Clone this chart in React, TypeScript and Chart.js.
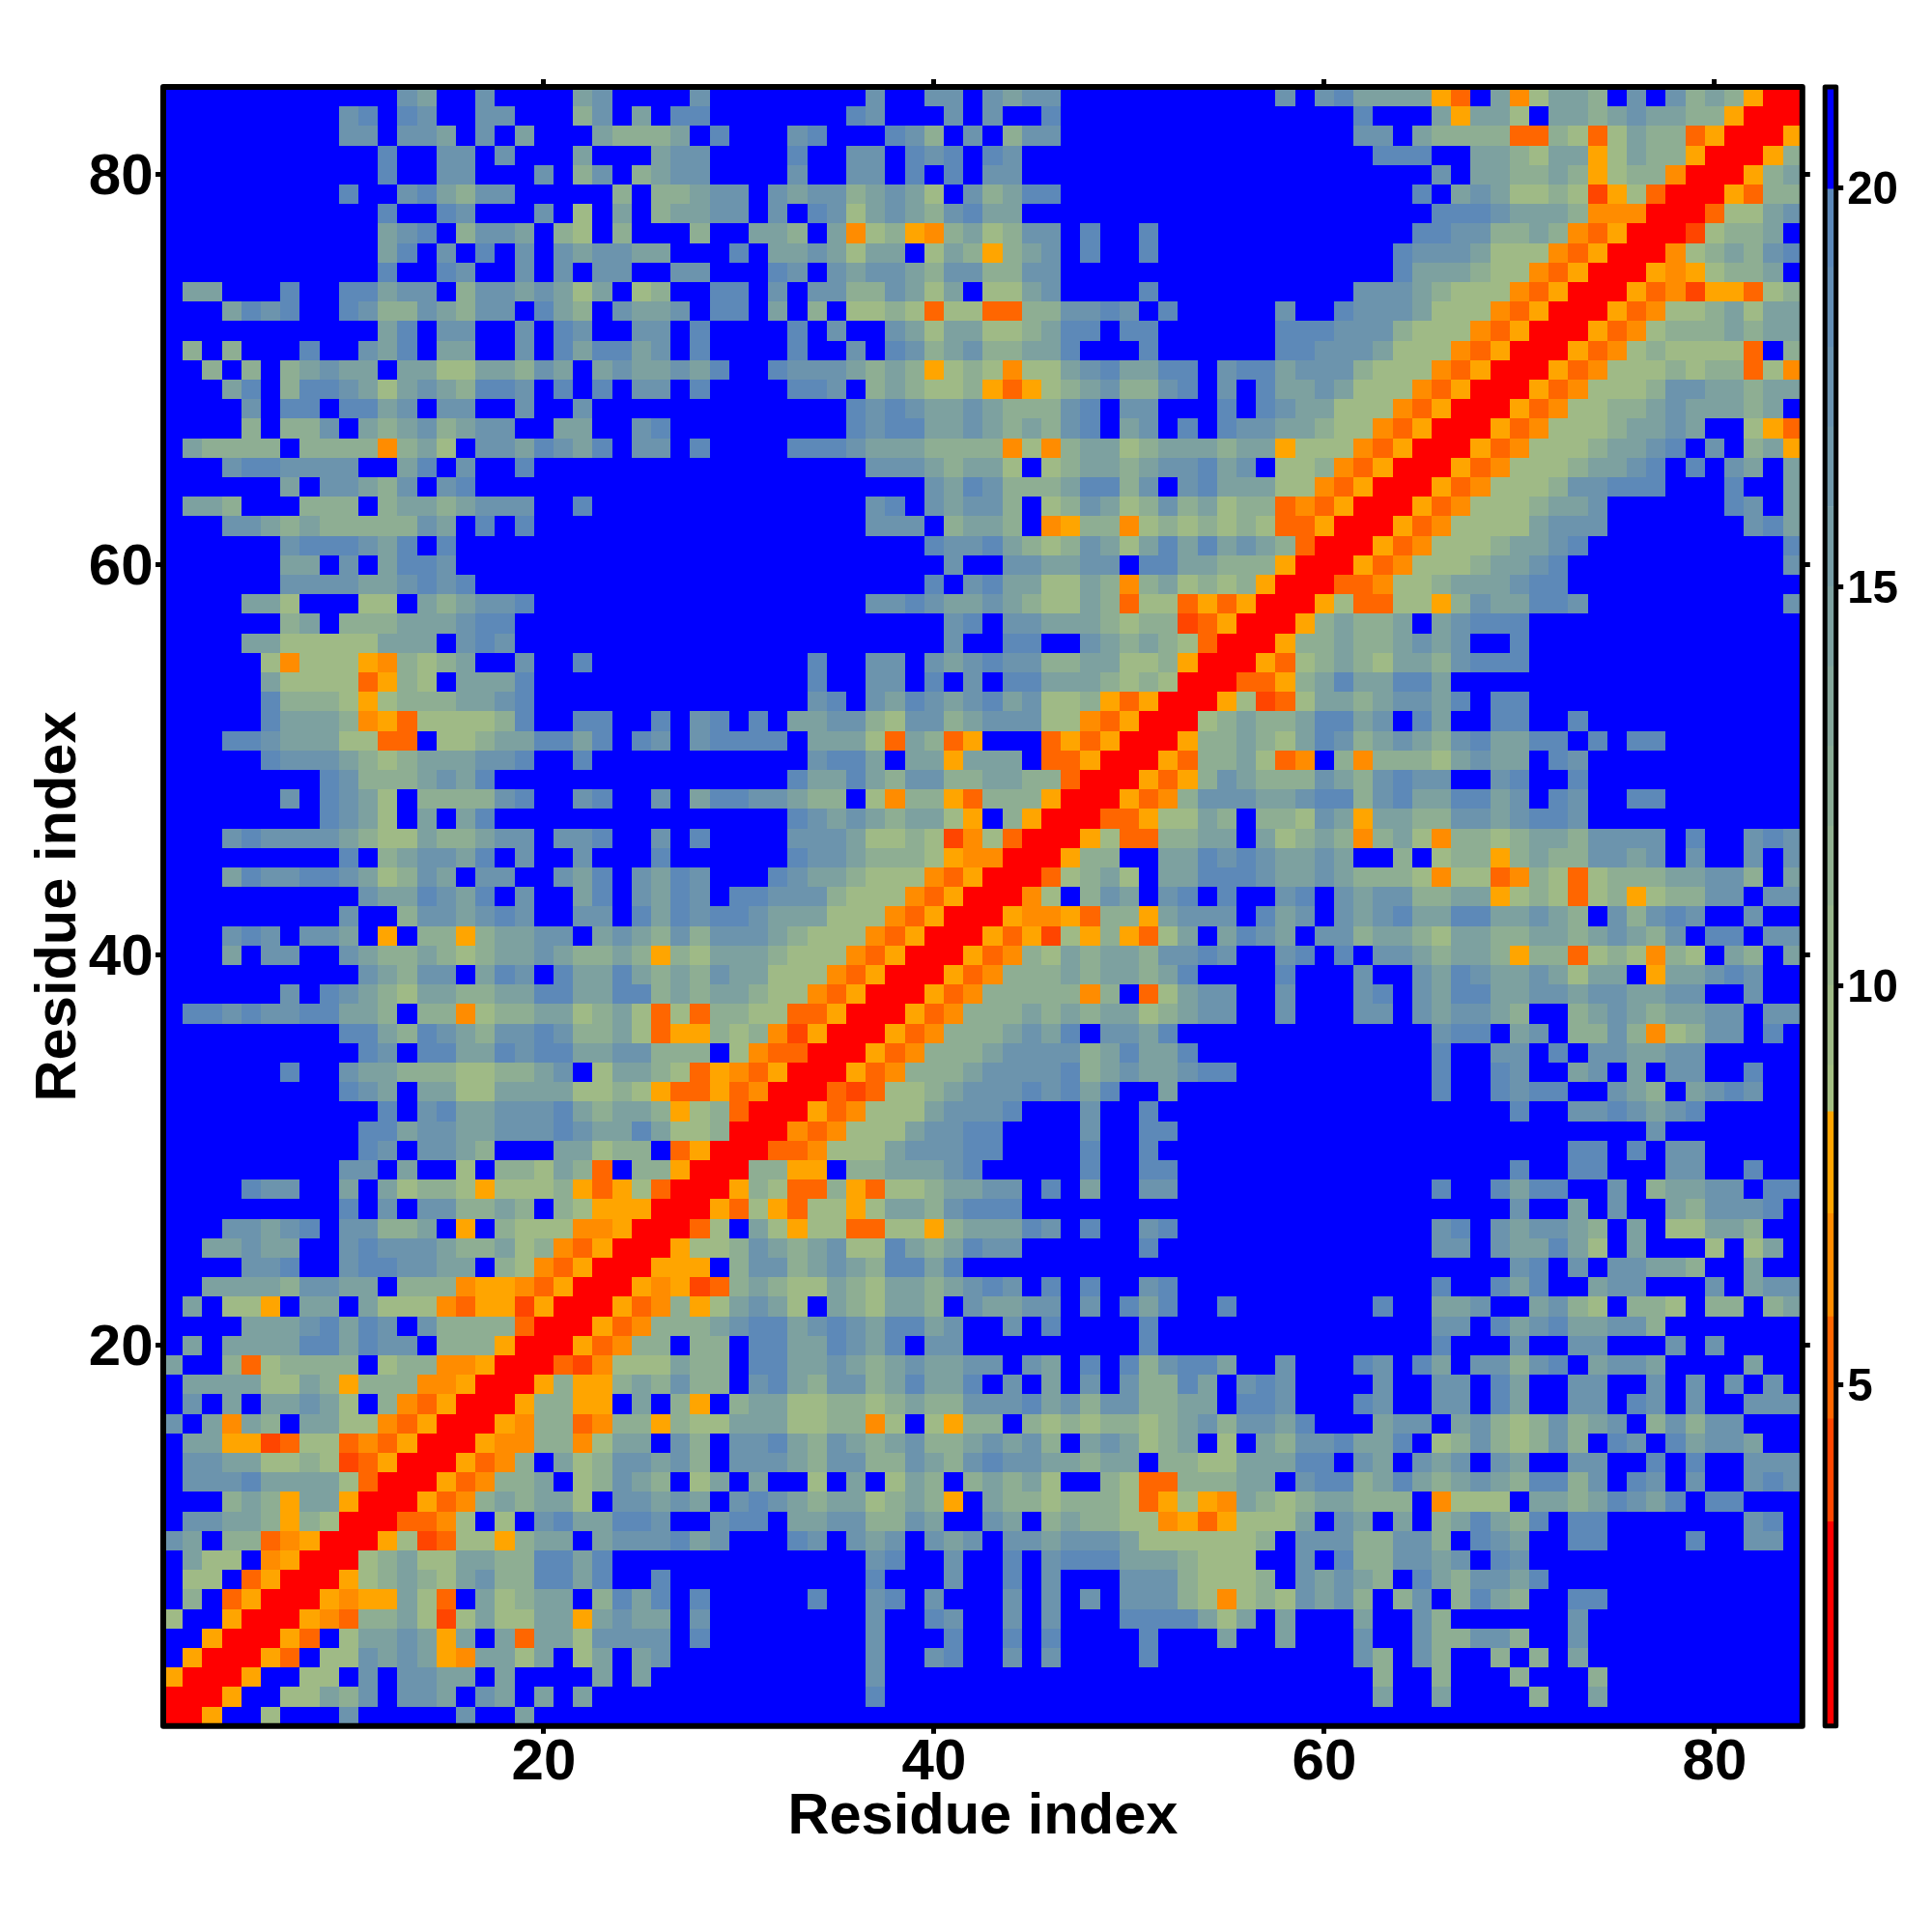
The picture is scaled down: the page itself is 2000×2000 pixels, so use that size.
import React, { useEffect, useRef } from "react";
import { Chart, registerables } from "chart.js";

Chart.register(...registerables);

const FONT = "'Liberation Sans', Arial, sans-serif";
const axisTitle = "Residue index";
const mainTicks = [20, 40, 60, 80];
const barTicks = [5, 10, 15, 20];
const residueMin = 0.5;
const residueMax = 84.5;
const barMin = 0.72;
const barMax = 21.26;

// Contact-map rows, top (residue 84) to bottom (residue 1). One character per residue.
const rows84to57 = [
  "....... .....23 ..2.... 32....2 ....... .2..22. 2322... ....... .2.2133 33ac.3b 5334.2. 2434arr",
  "....... ..21.12 ..22... 42.3.11 ....... 12...2. 2..1... ....... .....1. ..3a335 .334323 344arrr",
  "....... ..22.22 3.2.3.. .34443. 1...21. ..124.2 .422... ....... .....22 .34444c c45c534 4carrra",
  "....... ....1.. 22.2... 3...322 ....1.. 22.121. 12..... ....... ......1 11..334 533a534 4arrra4",
  "....... ....1.. 22...2. 42.4322 ....2.. 22.1.1. 22..... ....... ....... ..2.334 434a544 brrra43",
  "....... ..1..21 3422... ..4.443 22.2322 43235.2 4311... ....... ....... .1.3235 545da5c rrrac44",
  "....... ....1.. 12...2. 5.3.433 22.2.12 5323421 33..... ....... ....... ..11123 334bbbr rrc5532",
  "....... ....321 .4223.4 5.4...4 ..334.3 b54ab43 5422.1. .1..... ....... .112244 34bcarr rd5443.",
  "....... ....31. 2.1.2.2 32233.. .1.3323 533.534 a432.1. .1..... ....... 1222355 5bcarrr b543421",
  "....... ....1.. 12..2.2 .22..22 ...12.2 3223422 4422... ....... ....... 1333455 bcarrra ba5443.",
  ".33...1 ..11322 .422323 53.54.. 11.2.22 442353. 5532... .1..... .....22 234555b carrrac bdaac54",
  "...3121 ..12442 3422.13 4.2332. 11.3.4. 5545c55 cc44221 2.1.... .2..122 23555bc arrracb 5543533",
  "....... ....31. 22..2.1 2..22.1 ....1.2 ..23533 554311. 11..... .111222 4555bca rrracb5 4443433",
  ".4.4... 1..231. 33..2.1 31132.1 ....1.. 2.12432 44331.. .1..... .112223 555bcar rracb54 5555c.4",
  "..4.4.4 3233.33 5533423 .323323 1..1222 3434a54 5b55321 3311.21 1322245 55bcarr racb555 4544c5b",
  "...31.4 1123532 34112.1 .1.22.1 ....112 .434554 aca5432 4421.2. 1332355 5bcarrr acb5554 2233433",
  "....2.1 1.1132. 22..2.. 2...... ....... 1212332 344421. 22...1. 1233555 bcarrra cb55443 233343.",
  "....4.4 42.3432 4322..3 3..21.. ....... 1211332 343421. 32.1.12 233455b carrrac b555433 23..5ac",
  ".34444. 4444b43 5.22312 31.22.1 ....111 2333444 4b5b433 5433343 3a555bc arrracb 5554332 1.2.43a",
  "...2112 222..31 .2..1.. ....... ....... .222343 35.5433 4322132 .554bca rrracb5 5543321 .1.23.3",
  "......3 .22342. 21..... ....... ....... ....231 2444311 42.2133 355bcar rracb55 5422111 ...1..3",
  ".334... 444.433 43222.. 1...... ....... .21.232 24.5423 5424354 4cbcarr racb555 4332... ...12.3",
  "...2234 3444442 3.1.1.. ....... ....... .222.43 34.ba44 b545454 5ccarrr acb5555 3222... ....213",
  "......2 111231. 1...... ....... ....... ....122 1345423 5313132 34crrra cb55543 321.... ......1",
  "......3 3.2.311 2...... ....... ....... .....2. .223322 .113344 4arrrac b555433 21..... ......2",
  "......2 2223321 21..... ....... ....... ....1.2 1335534 b435454 arrrccb 5543332 11..... .......",
  "....335 ...55.3 43221.. ....... ....... .221233 2345534 c55caca rrra5cc 55a4233 112.... ......2",
  "......4 3.44433 3211... ....... ....... .....21 .223334 544dcar rra4344 3.32111 ....... .......",
];
const rows56to29 = [
  "....335 5555333 .212... ....... ....... .....2. .11..23 4345crr ra44344 3232..1 ....... .......",
  ".....5b 555ab45 43..2.. 1...... .....1. .22.232 1224433 554arrr ac54345 3342111 ....... .......",
  ".....35 555ca45 .3331.. ....... .....1. .22.1.2 .113334 545rrrc ca43133 113.... ....... .......",
  ".....14 445a544 43321.. ....... .....21 .231232 132554a carrra5 dc53343 2231.11 ....... .......",
  ".....13 334bac5 55541.. 11..1.2 1.1.332 2452243 22255bc arrr543 4431132 .13..11 ..1.... .......",
  "...1123 3355cc. 5543311 31.12.2 1111.33 35c34ca ...caca rrra443 4531243 2342133 11.1.11 .......",
  ".....12 2234543 33221.. 1...... .....21 13.33a3 33.ccar rrac443 5cb.4b4 4453233 .12.... .......",
  "....... .124443 231.... ....... ....133 1342244 3344crr raca423 4442342 122..21 ..1.... .......",
  "......2 .1235.4 44421.. 21..2.3 1122344 .5b44ac 444arrr acb4222 3321142 1331132 .12..11 .......",
  "....... .1235.3 .31.... ....... ....123 234335a .4arrrc ca5534. 44523a3 3442232 112.... .......",
  "...2122 2234553 44322.2 21..2.1 ....222 35545db 5crrra5 cc4433. 35434b4 35b4454 3342222 .1..212",
  "....... ..1.432 231.2.. 2...1.. ....122 34445ab brrra44 ..33121 23323.. 4.544a4 3442232 .2..2.2",
  "...3122 1123542 3.22..2 31.2312 ...1233 4555bca rrrc543 5.33111 2332344 45b55cb 45c5444 33224.3",
  "....... ...2331 231.2.. 31.2312 .112224 555bcar rrb5.42 3.21.1. .21.232 24433a5 45c54a5 4422.22",
  "....... ..2..42 23212.. 22.1312 1123335 55bcarr rabbac4 4a3222. 132.232 1331133 234.242 12..2..",
  "...212. 223.a.4 4a43322 .323424 2223455 5bcarrr acad5a4 ac53.31 23.2243 3453344 3343234 2.11.22",
  "...3.22 ..23443 4543323 4434a45 3334555 bcarrra cb45343 342212. .21.1.2 234334a 44c545b 45.34.3",
  "....... ...2342 2.312.1 3313434 233555b carrrac b444343 3431... .1...2. .231233 23533.a 33212..",
  "......2 .123453 3443311 3311434 33455bc arrracb 44444b4 .c5322. .2...21 .231133 2232233 22..2..",
  ".112122 11334.4 4b54433 5435c5c 4455cca rrracb4 4434343 354322. .2...22 .232234 ..43234 3322.22",
  "....... ..11341 2342212 4435caa 454bdar rracb44 43231.2 231.... ....... ..211.3 2.4424b 5422.1.",
  "....... ...12.1 1331211 3322444 .5bccrr racb444 3222243 1331... ....... ..1..22 .1.2233 22.....",
  "......1 ..23344 4554432 .53345c abcarrr acb4443 2222143 233211. ....... ..1..12 ..32.3. 22..1..",
  "....... ..123.3 3553333 5545acc acbrrrc dc55432 2212131 ..3.... ....... ..1..12 11..234 .3212..",
  "....... ....1.2 1332221 34334a5 4crrrac b555322 21...2. .1..... ....... ......1 ..22123 21.....",
  "....... ...1132 2332221 2331355 4rrrbcb 5553221 1....2. .11.... ....... ....... ......2 .......",
  "....... ...12.2 234...3 3544.ca rrrccb5 5532221 1....1. .1..... ....... ....... ..11.1. 22.....",
  "....... ..22.3. .5.4453 4c.44ar rr44aa. 4433321 .....1. .11.... ....... ......1 ..11... 22..1..",
];
const rows28to1 = [
  "....122 ..3.354 45a5554 aca5crr ra45cc4 ac55433 22.1.3. .22.... ....... ..1..13 11..2.4 3322.11",
  "....... ..1.2.2 24434.4 5aaarrr ac5ac55 a533421 11..... ....... ....... ......2 ..3.2.. 342221.",
  "...2232 1.22443 .a.4555 bbarrrc 5.35a55 cc55a43 3312.1. .21.... ....... ..21.23 2234.3. 55334..",
  "..33233 ..21222 344354b carrra5 5423432 5513431 22..... .1..... ....... ..22.23 3135.3. ..5.53.",
  "....221 ..21122 33.45bc arrraaa .422432 341131. ....... ....... ....... ......2 1.2.223 34..3..",
  "..33334 2233.44 4baabca rrrabad c434553 4533432 12.1.1. .21.... ....... ..1..13 1..322. ..2.322",
  ".3.55a. 33.3555 bcaadar rracb4a 53235.3 45334.2 3322.2. 131..1. ......1 ..332.. 3245.44 5.44.43",
  "....333 21312.2 4444crr racb444 3211321 231132. .2.1... .1..... ....... ..22.13 2133224 .......",
  ".3.3333 113122. 444arrr acb44.4 4.11331 231.22. ....... .1..... ....... ..1...2 ..22... 2.2....",
  "3..4c54 444.544 bbarrrc db55534 4.11332 3432332 2.23.1. 142113. .2...12 .13.224 21.3223 ....3..",
  ".333355 34a444b barrra4 aa43424 4.21342 2431331 .2.3.2. 24413.2 12....2 ..22.13 ..22..2 .2.2.2.",
  ".2.3.33 235.4bc arrra44 aa.3.4a .433554 4543442 2213242 24433.1 12...12 ..22.13 ..22.12 .2..222",
  "2.3b34. 3355bca rrrab44 cb44a45 5333554 4b5.5a4 4.45454 4543242 231...3 22.3245 42432.4 2422...",
  ".33aadc 55cbcar rrabb44 b533.24 .221342 3432443 2324.32 3543.5. 3422133 1.54245 424.12. 13223..",
  ".223355 45dcarr racb4.3 5422324 .222342 2442342 1223343 3.44553 3311.23 .232.23 ..22..1 .1..222",
  ".222133 335crrr acb443. 54234.5 3.3..5. 3.534.4 3435..4 5cc4443 3.21143 1343234 1142.12 .2..212",
  "...434a 33arrra cb43433 5.22323 .212343 35434a. 3445444 5ca5ab3 4543344 4.b555. 3343123 1.11...",
  ".22334a 45rrrcc b5.5.21 33112.. 211.332 24423.. 23.4344 55baca5 553.23. 3.43134 1.11... ....21.",
  "23.44cb arrra5d c55a433 .322213 2...12. 232.232 .223222 3555555 4.22244 224.123 ..11... .1..22.",
  ".355.ba rrr5435 5334411 31..... ....... .21..2. .1.2111 3334555 ..2.144 2232.12 ....... .......",
  ".55.car rra5434 5324411 31..1.. ....... .1...2. .1.2... 2224555 4.23234 .134223 1...... .......",
  ".4.carr rabaa35 c.35433 .4131.1 .....1. .21.2.. .2.2.2. 22245b5 452324. 42.4134 ..11... .......",
  "5..arrr abc4435 d535533 a3233.2 ....... .2..12. .2.2... 1111353 .3...3. .24.... ..2.... .......",
  "..arrra c.53323 a3.3c33 52222.1 ....... .2...1. .1.1... .1...3. .3...2. .244224 ..2.... .......",
  ".arrrac .552323 ab3353. 53.32.. ....... .2..21. .2.2... .1..... .....24 .24..4. 4.3.... .......",
  "arrra.. 55.2.22 33.3... .3.3... ....... .2..... ....... ....... ......4 ..4...4 ...4... .......",
  "rrra..5 5342.22 3.23.3. 3...... ....... .1..... ....... ....... ......3 ..3.... 4..3... .......",
  "rra..5. ..2.... .2..3.. ....... ....... ....... ....... ....... ....... ....... ....... .......",
];

// Value of each symbol in the rows (read against the colour bar).
const symbolValues: Record<string, number> = {
  ".": 21, "1": 19.2, "2": 17, "3": 14.5, "4": 12, "5": 9.5,
  a: 7.8, b: 6.5, c: 5.2, d: 3.9, r: 2,
};

// Colour bar segment edges
const barEdges = [0.72, 3.28, 4.57, 5.85, 7.14, 8.42, 9, 10, 11, 12, 13, 14, 15, 16, 17, 18, 19, 19.98, 21.26];

const hotColors = [
  { from: 0, color: "#ff0000" },
  { from: 3.28, color: "#ff4500" },
  { from: 4.57, color: "#ff6600" },
  { from: 5.85, color: "#ff8c00" },
  { from: 7.14, color: "#ffa500" },
];
const coolLow = [166, 192, 128];
const coolHigh = [88, 133, 188];

function colorOf(v: number): string {
  if (v >= 19.98) return "#0000ff";
  if (v >= 8.42) {
    const t = (v - 8.42) / (19.98 - 8.42);
    const c = coolLow.map((l, i) => Math.round(l + (coolHigh[i] - l) * t));
    return `rgb(${c[0]},${c[1]},${c[2]})`;
  }
  let col = hotColors[0].color;
  for (const h of hotColors) if (v >= h.from) col = h.color;
  return col;
}

const framePlugin = (lineWidth: number) => ({
  id: "frame",
  afterDraw(chart: any) {
    const { ctx, chartArea: a } = chart;
    ctx.save();
    ctx.lineWidth = lineWidth;
    ctx.lineJoin = "round";
    ctx.strokeStyle = "#000";
    ctx.strokeRect(a.left, a.top, a.right - a.left, a.bottom - a.top);
    ctx.restore();
  },
});

// Paints each point of the scatter dataset as a residue cell on the chart's own scales.
const cellPlugin = {
  id: "cells",
  beforeDatasetDraw(chart: any, args: any) {
    const { ctx, scales } = chart;
    const ds = chart.data.datasets[args.index];
    const area = chart.chartArea;
    ctx.save();
    ctx.beginPath();
    ctx.rect(area.left, area.top, area.right - area.left, area.bottom - area.top);
    ctx.clip();
    ds.data.forEach((p: any, i: number) => {
      const x0 = Math.round(scales.x.getPixelForValue(p.x - 0.5));
      const x1 = Math.round(scales.x.getPixelForValue(p.x + 0.5));
      const y0 = Math.round(scales.y.getPixelForValue(p.y + 0.5));
      const y1 = Math.round(scales.y.getPixelForValue(p.y - 0.5));
      ctx.fillStyle = ds.pointBackgroundColor[i];
      ctx.fillRect(x0, y0, x1 - x0, y1 - y0);
    });
    ctx.restore();
    return false;
  },
};

const labelFont = { family: FONT, size: 60, weight: "bold" as const };
const titleFont = { family: FONT, size: 59.6, weight: "bold" as const };

function makeAxis(position: string, size: number, showLabels: boolean, tickPad: number, labelOffset: number, titlePad: any) {
  const horizontal = position === "top" || position === "bottom";
  return {
    type: "linear" as const,
    position,
    min: residueMin,
    max: residueMax,
    afterBuildTicks: (s: any) => { s.ticks = mainTicks.map((value) => ({ value })); },
    afterFit: (s: any) => { if (horizontal) s.height = size; else s.width = size; },
    border: { display: false },
    grid: { display: true, drawOnChartArea: false, drawTicks: true, tickLength: 8, tickWidth: 5, tickColor: "#000" },
    ticks: { display: showLabels, color: "#000", font: labelFont, padding: tickPad, labelOffset, maxRotation: 0, minRotation: 0, autoSkip: false },
    title: titlePad
      ? { display: true, text: axisTitle, color: "#000", font: titleFont, padding: titlePad }
      : { display: false },
  };
}

export default function App() {
  const mainRef = useRef<HTMLCanvasElement>(null);
  const barRef = useRef<HTMLCanvasElement>(null);

  useEffect(() => {
    const rows = [...rows84to57, ...rows56to29, ...rows28to1].map((r) => r.replace(/ /g, ""));
    const points: { x: number; y: number }[] = [];
    const colors: string[] = [];
    rows.forEach((row, i) => {
      const residueY = 84 - i;
      for (let c = 0; c < 84; c++) {
        const sym = row[c] ?? ".";
        points.push({ x: c + 1, y: residueY });
        colors.push(colorOf(symbolValues[sym] ?? 21));
      }
    });

    const main = new Chart(mainRef.current!, {
      type: "scatter",
      data: {
        datasets: [{
          data: points,
          pointStyle: "rect",
          pointRadius: 14.3,
          pointBorderWidth: 0,
          pointBackgroundColor: colors,
        } as any],
      },
      options: {
        responsive: false,
        animation: false,
        devicePixelRatio: 1,
        events: [],
        layout: { padding: { top: 90, right: 134.2, left: 0, bottom: 0 } },
        plugins: { legend: { display: false }, tooltip: { enabled: false } },
        scales: {
          x: makeAxis("bottom", 213.2, true, -5, 0, { bottom: 83, top: 0 }),
          y: makeAxis("left", 169, true, 2.5, 4, { top: 26, bottom: 0 }),
          xTop: makeAxis("top", 0, false, 0, 0, null),
          yRight: makeAxis("right", 0, false, 0, 0, null),
        } as any,
      },
      plugins: [cellPlugin, framePlugin(6)],
    });

    const segments = barEdges.slice(0, -1).map((lo, i) => [lo, barEdges[i + 1]]);
    const bar = new Chart(barRef.current!, {
      type: "bar",
      data: {
        labels: ["scale"],
        datasets: segments.map(([lo, hi]) => ({
          data: [[lo, hi]],
          backgroundColor: colorOf((lo + hi) / 2),
          borderWidth: 0,
          grouped: false,
          barPercentage: 1,
          categoryPercentage: 1,
        })) as any,
      },
      options: {
        responsive: false,
        animation: false,
        devicePixelRatio: 1,
        events: [],
        layout: { padding: { top: 90, left: 9.2, right: 0, bottom: 0 } },
        plugins: { legend: { display: false }, tooltip: { enabled: false } },
        scales: {
          x: {
            display: true,
            afterFit: (s: any) => { s.height = 213.2; },
            border: { display: false },
            grid: { display: false },
            ticks: { display: false },
          },
          y: {
            type: "linear",
            position: "right",
            min: barMin,
            max: barMax,
            afterBuildTicks: (s: any) => { s.ticks = barTicks.map((value) => ({ value })); },
            afterFit: (s: any) => { s.width = 99.3; },
            border: { display: false },
            grid: { display: true, drawOnChartArea: false, drawTicks: true, tickLength: 7.5, tickWidth: 5, tickColor: "#000" },
            ticks: { color: "#000", font: { family: FONT, size: 47.5, weight: "bold" }, padding: 4, labelOffset: 4 },
          },
        } as any,
      },
      plugins: [framePlugin(5)],
    });

    return () => { main.destroy(); bar.destroy(); };
  }, []);

  return (
    <div style={{ position: "absolute", left: 0, top: 0, width: 2000, height: 2000, background: "#fff" }}>
      <canvas ref={mainRef} width={2000} height={2000} style={{ position: "absolute", left: 0, top: 0 }} />
      <canvas ref={barRef} width={120} height={2000} style={{ position: "absolute", left: 1880, top: 0 }} />
    </div>
  );
}
